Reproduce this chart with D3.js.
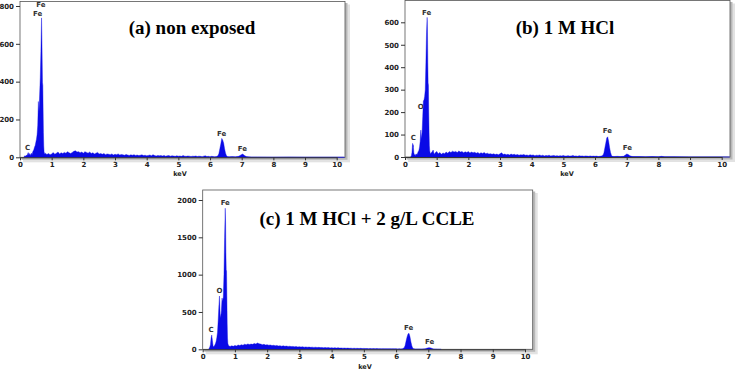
<!DOCTYPE html>
<html>
<head>
<meta charset="utf-8">
<script src="https://cdn.jsdelivr.net/npm/d3@7"></script>
<style>
  body { margin: 0; background: #fff; }
  svg { display: block; }
  .tick text { font-family: "DejaVu Sans", sans-serif; font-weight: bold; font-size: 7px; fill: #222; }
  .peak { font-family: "DejaVu Sans", sans-serif; font-weight: bold; font-size: 7px; fill: #333; text-anchor: middle; }
  .title { font-family: "Liberation Serif", "Times New Roman", serif; font-weight: bold; font-size: 19px; fill: #000; text-anchor: middle; }
  .xlabel { font-family: "DejaVu Sans", sans-serif; font-weight: bold; font-size: 6.5px; fill: #222; text-anchor: middle; }
</style>
</head>
<body>
<div id="chart"></div>
<script>
// EDS spectra: [keV, counts]
var specA = [
  [0.12,0],[0.15,8],[0.18,5],[0.2,12],[0.22,8],[0.24,18],[0.26,25],[0.28,14],[0.3,20],[0.32,10],[0.34,16],
  [0.36,22],[0.38,14],[0.4,28],[0.42,35],[0.44,42],[0.46,55],[0.48,62],[0.5,80],[0.52,95],[0.54,120],
  [0.56,170],[0.58,295],[0.6,240],[0.62,330],[0.64,420],[0.66,560],[0.68,737],[0.69,650],[0.7,520],
  [0.71,395],[0.72,380],[0.73,250],[0.74,130],[0.75,60],[0.76,30],[0.78,18],
  [0.8,22],[0.85,15],[0.9,20],[0.95,14],[1.0,18],[1.05,25],[1.1,16],[1.15,22],[1.2,28],[1.25,18],
  [1.3,24],[1.35,20],[1.4,26],[1.45,22],[1.5,30],[1.55,24],[1.6,20],[1.65,26],[1.7,32],[1.75,34],
  [1.8,28],[1.85,30],[1.9,24],[1.95,28],[2.0,22],[2.05,30],[2.1,26],[2.15,22],[2.2,28],[2.25,20],
  [2.3,24],[2.35,18],[2.4,22],[2.45,26],[2.5,18],[2.55,20],[2.6,16],[2.65,20],[2.7,14],[2.75,18],
  [2.8,16],[2.85,14],[2.9,18],[2.95,12],[3.0,16],[3.05,14],[3.1,18],[3.15,12],[3.2,15],[3.25,13],
  [3.3,11],[3.35,15],[3.4,12],[3.45,10],[3.5,13],[3.55,11],[3.6,14],[3.65,10],[3.7,12],[3.75,9],
  [3.8,11],[3.85,13],[3.9,9],[3.95,11],[4.0,8],[4.05,10],[4.1,12],[4.15,8],[4.2,14],[4.25,9],
  [4.3,7],[4.35,10],[4.4,8],[4.45,9],[4.5,7],[4.55,10],[4.6,6],[4.65,8],[4.7,9],[4.75,6],[4.8,8],
  [4.85,7],[4.9,5],[4.95,8],[5.0,6],[5.05,7],[5.1,5],[5.15,9],[5.2,6],[5.25,5],[5.3,7],[5.35,6],
  [5.4,4],[5.45,6],[5.5,5],[5.55,7],[5.6,4],[5.65,6],[5.7,5],[5.75,3],[5.8,6],[5.85,8],[5.9,4],
  [5.95,5],[6.0,3],[6.05,5],[6.1,4],[6.15,3],[6.2,4],[6.25,8],[6.28,20],[6.31,45],[6.34,70],
  [6.37,100],[6.4,92],[6.43,75],[6.46,45],[6.49,22],[6.52,8],[6.55,4],[6.6,3],[6.7,4],[6.8,3],
  [6.9,5],[6.95,10],[7.0,15],[7.03,17],[7.06,14],[7.1,8],[7.15,4],[7.2,3],[7.3,2],[7.5,2],
  [8.0,1],[8.5,2],[9.0,1],[9.5,1],[10.2,1],[10.25,0]
];
var specB = [
  [0.18,0],[0.2,5],[0.22,20],[0.24,61],[0.25,45],[0.26,55],[0.28,18],[0.3,8],[0.32,12],[0.34,6],
  [0.36,14],[0.38,10],[0.4,18],[0.42,25],[0.44,30],[0.46,45],[0.48,70],[0.5,120],[0.51,100],
  [0.52,80],[0.54,110],[0.56,180],[0.58,250],[0.6,254],[0.62,270],[0.64,300],[0.66,420],[0.68,556],
  [0.7,622],[0.71,560],[0.72,420],[0.73,330],[0.74,320],[0.75,200],[0.76,110],[0.77,50],[0.78,28],
  [0.8,15],[0.85,22],[0.89,31],[0.92,12],[0.95,18],[1.0,25],[1.05,14],[1.1,20],[1.15,12],[1.2,18],
  [1.25,15],[1.3,22],[1.35,17],[1.4,24],[1.45,20],[1.5,26],[1.55,22],[1.6,25],[1.65,20],[1.7,27],
  [1.75,22],[1.8,24],[1.85,19],[1.9,23],[1.95,20],[2.0,24],[2.05,18],[2.1,22],[2.15,19],[2.2,21],
  [2.25,17],[2.3,20],[2.35,15],[2.4,19],[2.45,16],[2.5,20],[2.55,14],[2.6,17],[2.65,13],[2.7,15],
  [2.75,12],[2.8,14],[2.85,11],[2.9,13],[2.95,10],[3.0,14],[3.05,19],[3.1,11],[3.15,13],[3.2,10],
  [3.25,12],[3.3,9],[3.35,13],[3.4,10],[3.45,12],[3.5,9],[3.55,11],[3.6,8],[3.65,10],[3.7,9],
  [3.75,11],[3.8,8],[3.85,9],[3.9,7],[3.95,10],[4.0,8],[4.05,9],[4.1,6],[4.15,8],[4.2,7],[4.25,9],
  [4.3,6],[4.35,8],[4.4,5],[4.45,7],[4.5,6],[4.55,8],[4.6,5],[4.65,6],[4.7,7],[4.75,5],[4.8,6],
  [4.85,4],[4.9,6],[4.95,5],[5.0,7],[5.05,4],[5.1,5],[5.15,6],[5.2,4],[5.25,5],[5.3,7],[5.35,4],
  [5.4,5],[5.45,3],[5.5,6],[5.55,4],[5.6,5],[5.65,3],[5.7,5],[5.75,4],[5.8,3],[5.85,5],[5.9,3],
  [5.95,4],[6.0,3],[6.05,4],[6.1,2],[6.15,3],[6.2,4],[6.25,8],[6.28,18],[6.31,40],[6.34,62],
  [6.37,85],[6.4,90],[6.43,70],[6.46,42],[6.49,20],[6.52,7],[6.55,3],[6.6,2],[6.7,3],[6.8,2],
  [6.9,3],[6.95,8],[7.0,13],[7.03,12],[7.06,10],[7.1,6],[7.15,3],[7.2,2],[7.4,2],[7.6,1],
  [7.8,2],[8.0,1],[8.1,3],[8.2,1],[8.5,1],[9.0,0.5],[9.5,0.5],[10.2,0.5],[10.25,0]
];
var specC = [
  [0.18,0],[0.2,10],[0.22,30],[0.24,60],[0.26,150],[0.28,192],[0.3,120],[0.32,50],[0.34,30],
  [0.36,45],[0.38,60],[0.4,80],[0.42,110],[0.44,160],[0.46,230],[0.48,380],[0.5,560],[0.52,714],
  [0.53,600],[0.54,480],[0.56,420],[0.58,520],[0.6,686],[0.62,640],[0.64,700],[0.66,1000],
  [0.68,1500],[0.7,1890],[0.71,1700],[0.72,1300],[0.73,1063],[0.74,1050],[0.75,700],[0.76,350],
  [0.77,150],[0.78,80],[0.8,50],[0.85,38],[0.9,46],[0.95,40],[1.0,52],[1.05,45],[1.1,58],[1.15,50],
  [1.2,62],[1.25,55],[1.3,68],[1.35,60],[1.4,72],[1.45,64],[1.5,70],[1.55,66],[1.6,78],[1.65,70],
  [1.7,85],[1.75,74],[1.8,70],[1.85,62],[1.9,66],[1.95,58],[2.0,62],[2.05,55],[2.1,58],[2.15,50],
  [2.2,54],[2.25,48],[2.3,52],[2.35,45],[2.4,48],[2.45,42],[2.5,46],[2.55,40],[2.6,43],[2.65,38],
  [2.7,41],[2.75,36],[2.8,39],[2.85,34],[2.9,37],[2.95,32],[3.0,35],[3.05,31],[3.1,34],[3.15,29],
  [3.2,32],[3.25,28],[3.3,30],[3.35,26],[3.4,29],[3.45,25],[3.5,28],[3.55,24],[3.6,26],[3.65,23],
  [3.7,25],[3.75,22],[3.8,24],[3.85,20],[3.9,23],[3.95,19],[4.0,22],[4.05,18],[4.1,21],[4.15,17],
  [4.2,20],[4.25,16],[4.3,18],[4.35,15],[4.4,17],[4.45,14],[4.5,16],[4.55,13],[4.6,15],[4.65,12],
  [4.7,14],[4.75,12],[4.8,13],[4.85,11],[4.9,13],[4.95,10],[5.0,12],[5.05,10],[5.1,11],[5.15,9],
  [5.2,11],[5.25,9],[5.3,10],[5.35,8],[5.4,10],[5.45,8],[5.5,9],[5.55,7],[5.6,9],[5.65,7],[5.7,8],
  [5.75,6],[5.8,8],[5.85,6],[5.9,7],[5.95,6],[6.0,7],[6.05,5],[6.1,6],[6.15,5],[6.2,8],[6.25,20],
  [6.28,50],[6.31,110],[6.34,165],[6.37,205],[6.4,214],[6.43,170],[6.46,100],[6.49,45],[6.52,15],
  [6.55,6],[6.6,4],[6.7,5],[6.8,4],[6.9,6],[6.95,14],[7.0,20],[7.04,22],[7.08,18],[7.12,10],
  [7.16,5],[7.2,3],[7.3,1],[7.4,0]
];

var ticksX = [0,1,2,3,4,5,6,7,8,9,10];
var ticksA = [0,200,400,600,800];
var ticksB = [0,100,200,300,400,500,600];
var ticksC = [0,500,1000,1500,2000];

// peak labels: [text, keV, counts at label baseline]
var peaksA = [["C",0.24,39],["Fe",0.56,749],["Fe",0.66,795],["Fe",6.37,114],["Fe",7.02,33]];
var peaksB = [["C",0.26,76],["O",0.5,215],["Fe",0.685,631],["Fe",6.39,106],["Fe",7.02,31]];
var peaksC = [["C",0.26,236],["O",0.52,758],["Fe",0.70,1934],["Fe",6.39,255],["Fe",7.04,67]];

var titles = ["(a) non exposed", "(b) 1 M HCl", "(c) 1 M HCl + 2 g/L CCLE"];

var svg = d3.select("#chart").append("svg")
    .attr("width", 737)
    .attr("height", 372);

var panels = [
    {spec: specA, yTicks: ticksA, peaks: peaksA, title: titles[0],
     left: 20, right: 336.7, frameR: 345, top: 1.5, bottom: 157.3, yMax: 800, yMaxPx: 6,
     tx: 192, ty: 34, kx: 180, ky: 176},
    {spec: specB, yTicks: ticksB, peaks: peaksB, title: titles[1],
     left: 405, right: 721.7, frameR: 730, top: 0.5, bottom: 157, yMax: 600, yMaxPx: 22.3,
     tx: 565, ty: 34, kx: 567, ky: 176},
    {spec: specC, yTicks: ticksC, peaks: peaksC, title: titles[2],
     left: 202.7, right: 525, frameR: 532.7, top: 190, bottom: 349.3, yMax: 2000, yMaxPx: 200,
     tx: 367, ty: 224.5, kx: 365, ky: 369}
];

panels.forEach(function(p) {
    var x = d3.scaleLinear().domain([0, 10]).range([p.left, p.right]);
    var y = d3.scaleLinear().domain([0, p.yMax]).range([p.bottom, p.yMaxPx]);

    var g = svg.append("g");

    // drop shadow and frame
    g.append("rect")
        .attr("x", p.left + 3).attr("y", p.top + 3)
        .attr("width", p.frameR - p.left + 2).attr("height", p.bottom - p.top + 2)
        .attr("fill", "#e2e2e2");
    g.append("rect")
        .attr("x", p.left + 1.5).attr("y", p.top + 1.5)
        .attr("width", p.frameR - p.left + 1).attr("height", p.bottom - p.top + 1)
        .attr("fill", "#b8b8b8");
    g.append("rect")
        .attr("x", p.left).attr("y", p.top)
        .attr("width", p.frameR - p.left).attr("height", p.bottom - p.top)
        .attr("fill", "#fff")
        .attr("stroke", "#555")
        .attr("stroke-width", 0.8);

    var area = d3.area()
        .x(function(d) { return x(d[0]); })
        .y0(y(0))
        .y1(function(d) { return y(d[1]); });

    g.append("path")
        .datum(p.spec)
        .attr("d", area)
        .attr("fill", "#0a0ae6")
        .attr("stroke", "#0a0ae6")
        .attr("stroke-width", 0.4);

    g.append("g")
        .attr("transform", "translate(0," + p.bottom + ")")
        .call(d3.axisBottom(x).tickValues(ticksX).tickSize(3).tickPadding(2).tickSizeOuter(0))
        .call(function(a) { a.select(".domain").attr("stroke", "#333"); a.selectAll(".tick line").attr("stroke", "#333"); });

    g.append("g")
        .attr("transform", "translate(" + p.left + ",0)")
        .call(d3.axisLeft(y).tickValues(p.yTicks).tickFormat(d3.format("d")).tickSize(4).tickPadding(2).tickSizeOuter(0))
        .call(function(a) { a.select(".domain").remove(); a.selectAll(".tick line").attr("stroke", "#333"); });

    g.selectAll(".peak")
        .data(p.peaks)
        .enter().append("text")
        .attr("class", "peak")
        .attr("x", function(d) { return x(d[1]); })
        .attr("y", function(d) { return y(d[2]); })
        .text(function(d) { return d[0]; });

    g.append("text").attr("class", "xlabel")
        .attr("x", p.kx).attr("y", p.ky).text("keV");

    g.append("text").attr("class", "title")
        .attr("x", p.tx).attr("y", p.ty).text(p.title);
});
</script>
</body>
</html>
